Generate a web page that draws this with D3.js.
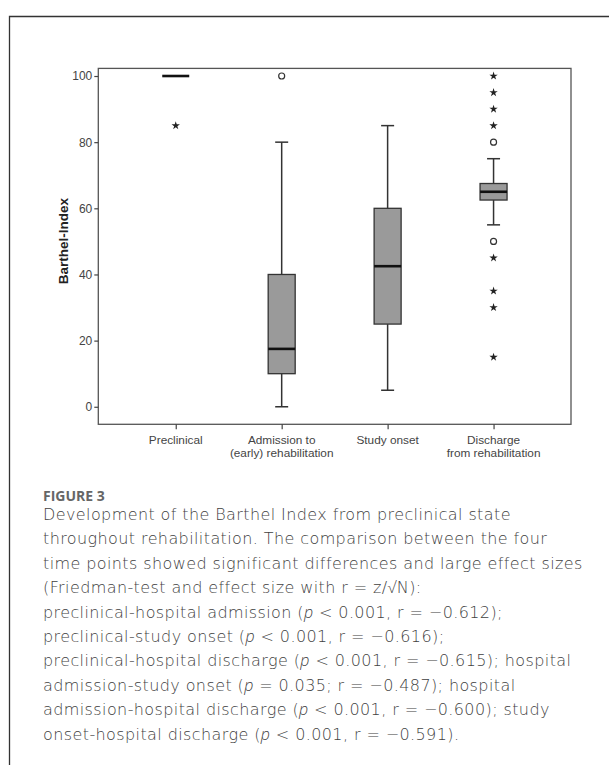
<!DOCTYPE html>
<html>
<head>
<meta charset="utf-8">
<script src="https://cdn.jsdelivr.net/npm/d3@7"></script>
<style>
  body { margin: 0; background: #fff; }
  svg { display: block; }
</style>
</head>
<body>
<svg width="609" height="765"></svg>
<script>
// Dados do gráfico
var categories = ["Preclinical", "Admission to\n(early) rehabilitation", "Study onset", "Discharge\nfrom rehabilitation"];
var q1 = [100, 10, 25, 62.5];
var medians = [100, 17.5, 42.5, 65];
var q3 = [100, 40, 60, 67.5];
var whiskerLow = [100, 0, 5, 55];
var whiskerHigh = [100, 80, 85, 75];
var outliers = [[], [100], [], [80, 50]];            // círculos
var extremes = [[85], [], [], [100, 95, 90, 85, 45, 35, 30, 15]]; // estrelas
var yTicks = [0, 20, 40, 60, 80, 100];

var captionTitle = "FIGURE 3";
var captionLines = [
  "Development of the Barthel Index from preclinical state",
  "throughout rehabilitation. The comparison between the four",
  "time points showed significant differences and large effect sizes",
  "(Friedman-test and effect size with r = z/\u221AN):",
  "preclinical-hospital admission (|p| < 0.001, r = \u22120.612);",
  "preclinical-study onset (|p| < 0.001, r = \u22120.616);",
  "preclinical-hospital discharge (|p| < 0.001, r = \u22120.615); hospital",
  "admission-study onset (|p| = 0.035; r = \u22120.487); hospital",
  "admission-hospital discharge (|p| < 0.001, r = \u22120.600); study",
  "onset-hospital discharge (|p| < 0.001, r = \u22120.591)."
];

var svg = d3.select("svg");

// Moldura externa
svg.append("path")
    .attr("d", "M9.5,765 V16.5 H609")
    .attr("fill", "none")
    .attr("stroke", "#333")
    .attr("stroke-width", 1.3);

// Área do gráfico
var plot = {left: 98.3, right: 571, top: 68.4, bottom: 424.3};

var y = d3.scaleLinear()
    .domain([-5.3, 102.3])
    .range([plot.bottom, plot.top]);

var x = d3.scalePoint()
    .domain(categories)
    .range([plot.left, plot.right])
    .padding(0.731);

var chart = svg.append("g");

// Retângulo do gráfico
chart.append("rect")
    .attr("x", plot.left)
    .attr("y", plot.top)
    .attr("width", plot.right - plot.left)
    .attr("height", plot.bottom - plot.top)
    .attr("fill", "none")
    .attr("stroke", "#555")
    .attr("stroke-width", 1.3);

// Eixo y
var yAxis = chart.append("g")
    .attr("transform", "translate(" + plot.left + ",0)")
    .call(d3.axisLeft(y).tickValues(yTicks).tickSize(4).tickPadding(2));
yAxis.select(".domain").remove();
yAxis.selectAll("line").attr("stroke", "#444").attr("stroke-width", 1.2);
yAxis.selectAll("text")
    .attr("fill", "#444")
    .style("font-family", "Arial, 'Liberation Sans', sans-serif")
    .style("font-size", "12px");

// Eixo x
var xAxis = chart.append("g")
    .attr("transform", "translate(0," + plot.bottom + ")")
    .call(d3.axisBottom(x).tickSize(5).tickFormat(""));
xAxis.select(".domain").remove();
xAxis.selectAll("line").attr("stroke", "#444").attr("stroke-width", 1.2);

var xLabels = chart.append("g")
    .style("font-family", "Arial, 'Liberation Sans', sans-serif")
    .style("font-size", "11.8px")
    .attr("fill", "#444")
    .attr("text-anchor", "middle");
categories.forEach(function(c) {
  c.split("\n").forEach(function(line, i) {
    xLabels.append("text")
        .attr("x", x(c))
        .attr("y", plot.bottom + 19.5 + i * 13)
        .text(line);
  });
});

// Título do eixo y
chart.append("text")
    .attr("transform", "translate(67.5,241) rotate(-90)")
    .attr("text-anchor", "middle")
    .style("font-family", "Arial, 'Liberation Sans', sans-serif")
    .style("font-size", "13.5px")
    .style("font-weight", "bold")
    .attr("fill", "#222")
    .text("Barthel-Index");

// Caixas
var boxW = 27, capW = 13;
var boxes = chart.append("g");
categories.forEach(function(c, i) {
  var cx = x(c);
  var g = boxes.append("g");
  // bigodes
  g.append("line")
      .attr("x1", cx).attr("x2", cx)
      .attr("y1", y(whiskerHigh[i])).attr("y2", y(q3[i]))
      .attr("stroke", "#333").attr("stroke-width", 1.5);
  g.append("line")
      .attr("x1", cx).attr("x2", cx)
      .attr("y1", y(q1[i])).attr("y2", y(whiskerLow[i]))
      .attr("stroke", "#333").attr("stroke-width", 1.5);
  [whiskerHigh[i], whiskerLow[i]].forEach(function(v) {
    g.append("line")
        .attr("x1", cx - capW / 2).attr("x2", cx + capW / 2)
        .attr("y1", y(v)).attr("y2", y(v))
        .attr("stroke", "#333").attr("stroke-width", 1.5);
  });
  if (q3[i] > q1[i]) {
    g.append("rect")
        .attr("x", cx - boxW / 2)
        .attr("y", y(q3[i]))
        .attr("width", boxW)
        .attr("height", y(q1[i]) - y(q3[i]))
        .attr("fill", "#9a9a9a")
        .attr("stroke", "#333")
        .attr("stroke-width", 1.3);
  }
  // mediana
  g.append("line")
      .attr("x1", cx - boxW / 2).attr("x2", cx + boxW / 2)
      .attr("y1", y(medians[i])).attr("y2", y(medians[i]))
      .attr("stroke", "#111").attr("stroke-width", 2.6);

  // outliers
  outliers[i].forEach(function(v) {
    g.append("circle")
        .attr("cx", cx).attr("cy", y(v)).attr("r", 3)
        .attr("fill", "#fff")
        .attr("stroke", "#333").attr("stroke-width", 1.2);
  });
  extremes[i].forEach(function(v) {
    g.append("path")
        .attr("transform", "translate(" + cx + "," + y(v) + ")")
        .attr("d", d3.symbol().type(d3.symbolStar).size(22)())
        .attr("fill", "#222");
  });
});

// Legenda da figura
svg.append("text")
    .attr("x", 43)
    .attr("y", 500.5)
    .style("font-family", "'Open Sans', Lato, sans-serif")
    .style("font-size", "14px")
    .style("font-weight", "bold")
    .attr("fill", "#666")
    .text(captionTitle);

var cap = svg.append("g")
    .style("font-family", "'DejaVu Sans', 'Open Sans', sans-serif")
    .style("font-size", "16px")
    .style("font-weight", "300")
    .style("letter-spacing", "0.4px")
    .attr("fill", "#3f3f3f");
captionLines.forEach(function(line, i) {
  var t = cap.append("text")
      .attr("x", 43)
      .attr("y", 520 + i * 24.4);
  line.split("|").forEach(function(part, j) {
    var ts = t.append("tspan").text(part);
    if (j % 2 === 1) {
      ts.style("font-style", "italic")
        .style("font-family", "'Open Sans', sans-serif")
        .style("font-weight", "300");
    }
  });
});
</script>
</body>
</html>
